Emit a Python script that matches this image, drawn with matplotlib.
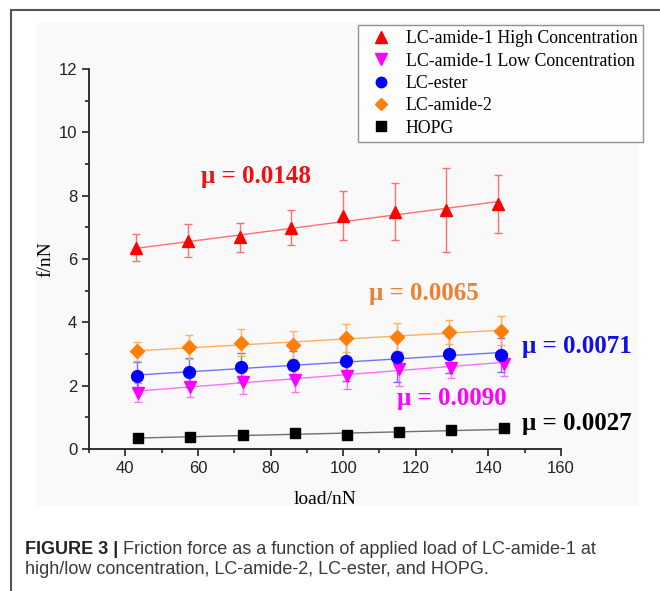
import numpy as np
import matplotlib
matplotlib.use('Agg')
import matplotlib.pyplot as plt
from matplotlib.lines import Line2D
from matplotlib.patches import Rectangle

# Data
labels = ['LC-amide-1 High Concentration', 'LC-amide-1 Low Concentration',
          'LC-ester', 'LC-amide-2', 'HOPG']

x_high = [42.9, 57.4, 71.6, 85.7, 100.0, 114.2, 128.4, 142.7]
y_high = [6.36, 6.58, 6.68, 6.99, 7.37, 7.49, 7.54, 7.74]
e_high = [0.43, 0.52, 0.47, 0.56, 0.78, 0.90, 1.33, 0.92]

x_low = [43.5, 57.9, 72.3, 86.8, 101.1, 115.5, 129.8, 144.2]
y_low = [1.78, 1.97, 2.13, 2.18, 2.30, 2.52, 2.57, 2.67]
e_low = [0.31, 0.33, 0.38, 0.38, 0.40, 0.53, 0.34, 0.37]

x_ester = [43.1, 57.6, 71.9, 86.1, 100.7, 114.8, 129.2, 143.5]
y_ester = [2.30, 2.42, 2.58, 2.65, 2.79, 2.89, 2.99, 2.96]
e_ester = [0.44, 0.46, 0.46, 0.43, 0.63, 0.76, 0.59, 0.54]

x_am2 = [43.1, 57.6, 71.9, 86.1, 100.7, 114.8, 129.2, 143.5]
y_am2 = [3.09, 3.23, 3.36, 3.29, 3.51, 3.53, 3.70, 3.74]
e_am2 = [0.30, 0.38, 0.42, 0.45, 0.44, 0.45, 0.38, 0.45]

x_hopg = [43.5, 57.9, 72.3, 86.8, 101.1, 115.5, 129.8, 144.2]
y_hopg = [0.36, 0.37, 0.43, 0.49, 0.45, 0.55, 0.60, 0.66]
e_hopg = [0.04, 0.04, 0.04, 0.04, 0.04, 0.04, 0.04, 0.04]

# linear fits: slope (mu) and intercept
mu = [0.0148, 0.0090, 0.0071, 0.0065, 0.0027]
intercept = [5.70, 1.44, 2.03, 2.82, 0.23]
mu_text = ['μ = 0.0148', 'μ = 0.0090', 'μ = 0.0071', 'μ = 0.0065', 'μ = 0.0027']
mu_pos = [(76, 8.6), (130, 1.58), (164.5, 3.25), (122.3, 4.92), (164.5, 0.82)]

series = [(x_high, y_high, e_high), (x_low, y_low, e_low), (x_ester, y_ester, e_ester),
          (x_am2, y_am2, e_am2), (x_hopg, y_hopg, e_hopg)]
markers = ['^', 'v', 'o', 'D', 's']
msizes = [9, 9, 8.5, 7, 7.5]
colors = ['#ff0000', '#ff00ff', '#0000ff', '#ff7f0a', '#000000']
light = ['#ff7070', '#ff70ff', '#7070ff', '#ffb060', '#707070']
text_colors = ['#f01010', '#ff00ff', '#1010e8', '#ee8030', '#000000']

serif = 'Liberation Serif'
sans = 'Liberation Sans'

fig = plt.figure(figsize=(6.6, 5.91), dpi=100)
W, H = 660, 591

# panel background and frame
bg = Rectangle((36 / W, 1 - 506 / H), (639 - 36) / W, (506 - 23) / H,
               transform=fig.transFigure, facecolor='#f9f9f9', edgecolor='none', zorder=-5)
fig.add_artist(bg)
fig.add_artist(Line2D([11 / W, 1], [1 - 10 / H, 1 - 10 / H], color='#555555', lw=1.5,
                      transform=fig.transFigure, zorder=-4))
fig.add_artist(Line2D([11 / W, 11 / W], [0, 1 - 10 / H], color='#555555', lw=1.5,
                      transform=fig.transFigure, zorder=-4))

ax = fig.add_axes([89 / W, 1 - 449 / H, (561 - 89) / W, (449 - 69) / H])
ax.set_facecolor('none')

for i, (xs, ys, es) in enumerate(series):
    xs = np.array(xs)
    ax.errorbar(xs, ys, yerr=es, fmt='none', ecolor=light[i], elinewidth=1, capsize=3, capthick=1, zorder=2)
    xf = np.array([xs[0], xs[-1]])
    ax.plot(xf, mu[i] * xf + intercept[i], color=light[i], lw=1, zorder=2)
    ax.plot(xs, ys, linestyle='none', marker=markers[i], ms=msizes[i], color=colors[i], zorder=3)
    ax.text(mu_pos[i][0], mu_pos[i][1], mu_text[i], color=text_colors[i], fontsize=18,
            fontweight='bold', family=serif, ha='center', va='center', clip_on=False)

ax.set_xlim(30, 160)
ax.set_ylim(0, 12)
ax.set_xticks(np.arange(40, 161, 20))
ax.set_xticks(np.arange(30, 161, 10), minor=True)
ax.set_yticks(np.arange(0, 13, 2))
ax.set_yticks(np.arange(0, 13, 1), minor=True)
for s in ['top', 'right']:
    ax.spines[s].set_visible(False)
for s in ['left', 'bottom']:
    ax.spines[s].set_linewidth(1.3)
    ax.spines[s].set_color('#222222')
ax.tick_params(which='major', direction='out', length=5, width=1.2, labelsize=12, colors='#222222')
ax.tick_params(which='minor', direction='out', length=3, width=1.2, colors='#222222')
for lab in ax.get_xticklabels() + ax.get_yticklabels():
    lab.set_family(sans)

ax.set_xlabel('load/nN', family=serif, fontsize=14, labelpad=11)
ax.set_ylabel('f/nN', family=serif, fontsize=14, labelpad=3)

handles = [Line2D([], [], linestyle='none', marker=markers[i], ms=msizes[i] - 1, color=colors[i])
           for i in range(5)]
leg = fig.legend(handles, labels, loc='upper right', bbox_to_anchor=(643 / W, 1 - 25 / H),
                 bbox_transform=fig.transFigure, prop={'family': serif, 'size': 12.8},
                 frameon=True, fancybox=False, edgecolor='#777777', handlelength=2.0,
                 handletextpad=0.42, labelspacing=0.3, borderpad=0.3, borderaxespad=0)
leg.get_frame().set_linewidth(1)

# caption
t1 = fig.text(25 / W, 1 - 549 / H, 'FIGURE 3 |', fontweight='bold', family=sans, fontsize=13,
              va='center', ha='left', color='#222222')
fig.text(25 / W, 1 - 570 / H, 'high/low concentration, LC-amide-2, LC-ester, and HOPG.',
         family=sans, fontsize=13, va='center', ha='left', color='#3a3a3a')
ax.annotate(' Friction force as a function of applied load of LC-amide-1 at', xy=(1, 0.5),
            xycoords=t1, va='center', ha='left', family=sans, fontsize=13, color='#3a3a3a',
            annotation_clip=False)

fig.savefig('out.png', dpi=100)
